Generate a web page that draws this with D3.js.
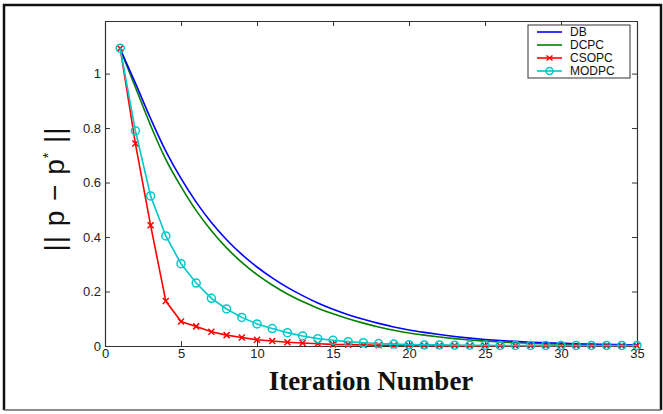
<!DOCTYPE html>
<html>
<head>
<meta charset="utf-8">
<script src="https://cdn.jsdelivr.net/npm/d3@7"></script>
<style>
  body { margin: 0; background: #fff; }
  svg text { font-family: "Liberation Sans", Arial, sans-serif; }
</style>
</head>
<body>
<div id="chart"></div>
<script>
// iteration index and the four series
var iterations = d3.range(1, 36);
var dbVals = [1.09, 0.965, 0.835, 0.715, 0.615, 0.528, 0.453, 0.39, 0.336, 0.29,
  0.25, 0.215, 0.185, 0.158, 0.135, 0.115, 0.098, 0.083, 0.07, 0.059,
  0.05, 0.042, 0.035, 0.029, 0.024, 0.02, 0.017, 0.014, 0.012, 0.01,
  0.008, 0.007, 0.006, 0.005, 0.004];
var dcpcVals = [1.09, 0.95, 0.81, 0.685, 0.585, 0.497, 0.423, 0.36, 0.307, 0.262,
  0.224, 0.191, 0.163, 0.139, 0.118, 0.1, 0.084, 0.07, 0.058, 0.048,
  0.04, 0.033, 0.027, 0.022, 0.018, 0.015, 0.012, 0.01, 0.008, 0.007,
  0.006, 0.005, 0.004, 0.003, 0.003];
var csopcVals = [1.093, 0.743, 0.443, 0.165, 0.09, 0.072, 0.052, 0.04, 0.031, 0.023,
  0.0185, 0.014, 0.011, 0.0085, 0.006, 0.005, 0.004, 0.003, 0.0025, 0.002,
  0.002, 0.0015, 0.0015, 0.001, 0.001, 0.001, 0.001, 0.001, 0.001, 0.001,
  0.001, 0.001, 0.001, 0.001, 0.001];
var modpcVals = [1.093, 0.79, 0.551, 0.404, 0.302, 0.231, 0.175, 0.136, 0.105, 0.081,
  0.064, 0.049, 0.037, 0.027, 0.021, 0.016, 0.012, 0.009, 0.007, 0.005,
  0.004, 0.004, 0.003, 0.003, 0.003, 0.002, 0.002, 0.002, 0.002, 0.002,
  0.002, 0.002, 0.002, 0.002, 0.002];
var xTicks = [0, 5, 10, 15, 20, 25, 30, 35];
var yTicks = [0, 0.2, 0.4, 0.6, 0.8, 1];
var seriesNames = ["DB", "DCPC", "CSOPC", "MODPC"];

var W = 663, H = 414;
var plotL = 105, plotR = 637, plotT = 21, plotB = 346;

var svg = d3.select("#chart").append("svg")
  .attr("width", W)
  .attr("height", H);

// outer frame of the figure
svg.append("path")
  .attr("d", "M4,410 L4,5 L661,5 L661,410")
  .attr("fill", "none")
  .attr("stroke", "#111")
  .attr("stroke-width", 2.5);
svg.append("line")
  .attr("x1", 4).attr("x2", 661).attr("y1", 410).attr("y2", 410)
  .attr("stroke", "#666").attr("stroke-width", 1.5);

var x = d3.scaleLinear().domain([0, 35]).range([plotL, plotR]);
var y = d3.scaleLinear().domain([0, 1.193]).range([plotB, plotT]);

// axes, matlab style: ticks inside on all four sides
svg.append("g").attr("transform", "translate(0," + plotB + ")")
  .call(d3.axisBottom(x).tickValues(xTicks).tickSizeInner(-5).tickSizeOuter(0).tickPadding(3));
svg.append("g").attr("transform", "translate(0," + plotT + ")")
  .call(d3.axisTop(x).tickValues(xTicks).tickSizeInner(-5).tickSizeOuter(0).tickFormat(""));
svg.append("g").attr("transform", "translate(" + plotL + ",0)")
  .call(d3.axisLeft(y).tickValues(yTicks).tickSizeInner(-5).tickSizeOuter(0).tickPadding(4)
    .tickFormat(d3.format("")));
svg.append("g").attr("transform", "translate(" + plotR + ",0)")
  .call(d3.axisRight(y).tickValues(yTicks).tickSizeInner(-5).tickSizeOuter(0).tickFormat(""));

svg.selectAll(".domain").attr("stroke", "#333").attr("stroke-width", 1.2);
svg.selectAll(".tick line").attr("stroke", "#333");
svg.selectAll(".tick text")
  .attr("font-size", 13)
  .attr("fill", "#222")
  .style("font-family", "Liberation Sans, Arial, sans-serif");

var line = d3.line()
  .x(function (d, i) { return x(iterations[i]); })
  .y(function (d) { return y(d); });
var smooth = d3.line()
  .x(function (d, i) { return x(iterations[i]); })
  .y(function (d) { return y(d); })
  .curve(d3.curveCatmullRom);

svg.append("path").datum(dcpcVals)
  .attr("d", smooth).attr("fill", "none")
  .attr("stroke", "#007f00").attr("stroke-width", 1.6);
svg.append("path").datum(dbVals)
  .attr("d", smooth).attr("fill", "none")
  .attr("stroke", "#0000ff").attr("stroke-width", 1.6);

// CSOPC, red with x markers
svg.append("path").datum(csopcVals)
  .attr("d", line).attr("fill", "none")
  .attr("stroke", "#ff0000").attr("stroke-width", 1.6);
svg.selectAll(".xmark").data(csopcVals).enter()
  .append("path")
  .attr("class", "xmark")
  .attr("transform", function (d, i) { return "translate(" + x(iterations[i]) + "," + y(d) + ")"; })
  .attr("d", "M-3,-3L3,3M-3,3L3,-3")
  .attr("stroke", "#ff0000").attr("stroke-width", 1.5);

// MODPC, cyan with circles
svg.append("path").datum(modpcVals)
  .attr("d", line).attr("fill", "none")
  .attr("stroke", "#00c8c8").attr("stroke-width", 1.6);
svg.selectAll(".omark").data(modpcVals).enter()
  .append("circle")
  .attr("class", "omark")
  .attr("cx", function (d, i) { return x(iterations[i]); })
  .attr("cy", function (d) { return y(d); })
  .attr("r", 4)
  .attr("fill", "none")
  .attr("stroke", "#00c8c8").attr("stroke-width", 1.5);

// legend
var colors = ["#0000ff", "#007f00", "#ff0000", "#00c8c8"];
var leg = svg.append("g").attr("transform", "translate(528,25)");
leg.append("rect")
  .attr("width", 102).attr("height", 53)
  .attr("fill", "#fff").attr("stroke", "#333").attr("stroke-width", 1);
var rows = leg.selectAll(".row").data(seriesNames).enter()
  .append("g")
  .attr("transform", function (d, i) { return "translate(0," + (7 + i * 13) + ")"; });
rows.append("line")
  .attr("x1", 9).attr("x2", 34).attr("y1", 0).attr("y2", 0)
  .attr("stroke", function (d, i) { return colors[i]; })
  .attr("stroke-width", 1.6);
rows.filter(function (d, i) { return i === 2; }).append("path")
  .attr("d", "M18.5,-2.5L24.5,2.5M18.5,2.5L24.5,-2.5")
  .attr("stroke", colors[2]).attr("stroke-width", 1.5);
rows.filter(function (d, i) { return i === 3; }).append("circle")
  .attr("cx", 21.5).attr("cy", 0).attr("r", 3.5)
  .attr("fill", "none").attr("stroke", colors[3]).attr("stroke-width", 1.5);
rows.append("text")
  .attr("x", 42).attr("y", 4)
  .attr("font-size", 12)
  .attr("fill", "#111")
  .text(function (d) { return d; });

// axis titles
svg.append("text")
  .attr("x", (plotL + plotR) / 2).attr("y", 390)
  .attr("text-anchor", "middle")
  .style("font-family", "Liberation Serif, Times New Roman, serif")
  .style("font-weight", "bold")
  .attr("font-size", 27)
  .attr("fill", "#111")
  .text("Iteration Number");

var yl = svg.append("text")
  .attr("transform", "translate(64,189) rotate(-90)")
  .attr("text-anchor", "middle")
  .attr("font-size", 28)
  .attr("fill", "#111")
  .style("letter-spacing", "1px");
yl.append("tspan").text("|| p \u2212 p");
yl.append("tspan").attr("dy", -11).attr("font-size", 14).text("*");
yl.append("tspan").attr("dy", 11).text(" ||");
</script>
</body>
</html>
